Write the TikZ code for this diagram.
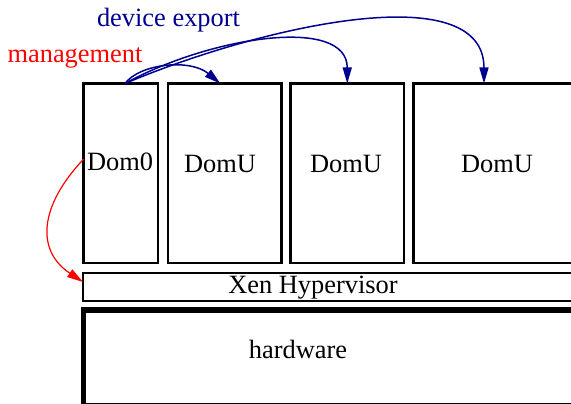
\documentclass[tikz,border=0pt]{standalone}
\usepackage{fontspec}
\setmainfont{Liberation Serif}
\usepackage{tikz}
\usetikzlibrary{calc,arrows.meta}
\definecolor{expblue}{HTML}{00008F}
\definecolor{mgmtred}{HTML}{FF0000}
\tikzset{
  dom/.style={draw=black, line width=2.7pt, outer sep=0pt, inner sep=0pt, anchor=north west, minimum height=179.5pt},
  xenbox/.style={draw=black, line width=2pt, outer sep=0pt, inner sep=0pt, anchor=north west, minimum width=520pt, minimum height=28pt},
  hwbox/.style={draw=black, line width=5.5pt, outer sep=0pt, inner sep=0pt, anchor=north west, minimum width=520pt, minimum height=95.5pt},
  lab/.style={font=\fontsize{26.4}{31}\selectfont, anchor=base, inner sep=0pt},
  exp/.style={draw=expblue, line width=1.5pt, -{Triangle[length=16pt,width=9pt]}},
  mgmt/.style={draw=mgmtred, line width=1.2pt, -{Triangle[length=16pt,width=9pt]}},
}
\begin{document}
\begin{tikzpicture}[x=1pt,y=-1pt]
  \useasboundingbox (0,0) rectangle (571,404);
  \clip (0,0) rectangle (571,404);
  % domains
  \node[dom, minimum width=74.5pt] (dom0) at (83.5,83.5) {};
  \node[dom, minimum width=113.5pt] (domu1) at (168,83.5) {};
  \node[dom, minimum width=113.5pt] (domu2) at (290.5,83.5) {};
  \node[dom, minimum width=180pt] (domu3) at (413.5,83.5) {};
  \node[xenbox] (xen) at (83,273) {};
  \node[hwbox] (hw) at (83.5,310) {};
  % texts
  \node[lab] (t0) at (120,170) {Dom0};
  \node[lab] (tu1) at (220,172) {DomU};
  \node[lab] (tu2) at (346,172) {DomU};
  \node[lab] (tu3) at (497,172) {DomU};
  \node[lab] (txen) at (313,293) {Xen Hypervisor};
  \node[lab] (thw) at (298,358) {hardware};
  \node[lab, text=expblue] (texp) at (168.5,27) {device export};
  \node[lab, text=mgmtred] (tmgmt) at (75,63) {management};
  % arrows
  \coordinate (src) at ($(dom0.north)+(4.25,0)$);
  \coordinate (in1) at ($(domu1.north)+(-4.5,0)$);
  \coordinate (in3) at ($(domu3.north west)+(70.5,0)$);
  \coordinate (msrc) at ($(dom0.west)+(0,-14)$);
  \coordinate (min) at ($(xen.north west)+(0,9)$);
  \draw[exp] (src) .. controls +(15,-20) and +(-30,-25) .. (in1);
  \draw[exp] (src) .. controls +(85,-47) and +(0,-68) .. (domu2.north);
  \draw[exp] (src) .. controls +(135,-57) and +(0,-108) .. (in3);
  \draw[mgmt] (msrc) .. controls +(-43.5,46) and +(-48,-32) .. (min);
\end{tikzpicture}
\end{document}
